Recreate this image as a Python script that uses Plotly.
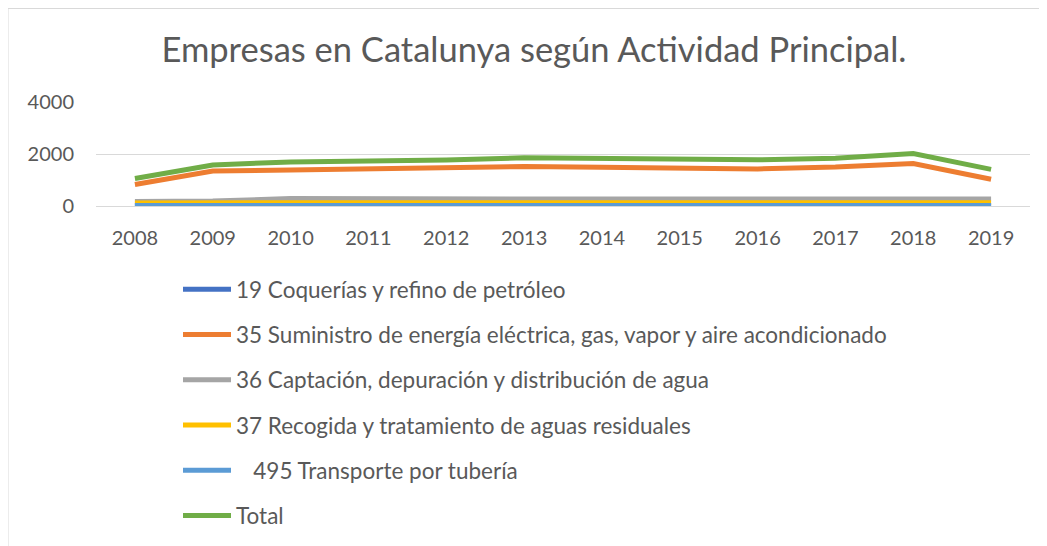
import plotly.graph_objects as go

years = ["2008", "2009", "2010", "2011", "2012", "2013", "2014", "2015", "2016", "2017", "2018", "2019"]

s19 = [5, 5, 5, 5, 5, 5, 5, 5, 5, 5, 5, 5]
s35 = [830, 1350, 1390, 1430, 1470, 1520, 1490, 1450, 1430, 1500, 1640, 1030]
s36 = [170, 190, 290, 270, 270, 270, 270, 270, 270, 280, 280, 270]
s37 = [120, 120, 125, 125, 125, 125, 125, 125, 130, 130, 130, 130]
s495 = [20, 20, 20, 20, 20, 20, 20, 20, 20, 20, 20, 20]
total = [1060, 1580, 1700, 1720, 1770, 1860, 1820, 1790, 1780, 1840, 2020, 1410]

names = [
    "19 Coquerías y refino de petróleo",
    "35 Suministro de energía eléctrica, gas, vapor y aire acondicionado",
    "36 Captación, depuración y distribución de agua",
    "37 Recogida y tratamiento de aguas residuales",
    "\u00a0\u00a0\u00a0495 Transporte por tubería",
    "Total",
]
colors = ["#4472C4", "#ED7D31", "#A5A5A5", "#FFC000", "#5B9BD5", "#70AD47"]
series = [s19, s35, s36, s37, s495, total]

FONT = "Lato"
GREY = "#595959"

fig = go.Figure()
for i, (nm, col, vals) in enumerate(zip(names, colors, series)):
    fig.add_trace(go.Scatter(
        x=years, y=vals, name=nm, mode="lines",
        line=dict(color=col, width=5),
        legendgroup=f"g{i}",
    ))

# page body adds an 8px offset; figure coordinates = reference pixels - 8
OFF = 8
W, H = 1047 - OFF, 546 - OFF
PL, PR, PT, PB = 96 - OFF, 1030 - OFF, 102 - OFF, 206 - OFF
pw, ph = PR - PL, PB - PT

fig.update_layout(
    width=W, height=H,
    margin=dict(l=PL, r=W - PR, t=PT, b=H - PB, autoexpand=False),
    paper_bgcolor="white", plot_bgcolor="white",
    font=dict(family=FONT, size=20, color=GREY),
    title=dict(text="Empresas en Catalunya según Actividad Principal.",
               x=(534 - OFF) / W, xanchor="center", y=1 - (50 - OFF) / H,
               yanchor="middle",
               font=dict(family=FONT, size=34.5, color=GREY)),
    xaxis=dict(type="category", range=[-0.5, 11.5], showgrid=False,
               showline=False, ticks="", ticklabelstandoff=18,
               tickfont=dict(size=20, color=GREY)),
    yaxis=dict(range=[0, 4008], tickvals=[0, 2000, 4000], showgrid=True,
               gridcolor="#D9D9D9", gridwidth=1, zeroline=True,
               zerolinecolor="#D9D9D9", zerolinewidth=1,
               ticks="", ticklabelstandoff=21, showline=False,
               tickfont=dict(size=20, color=GREY)),
    legend=dict(orientation="v", x=(178 - OFF - PL) / pw, xanchor="left",
                y=(PB - (268 - OFF)) / ph, yanchor="top", tracegroupgap=13,
                itemwidth=48,
                font=dict(family=FONT, size=22.5, color=GREY),
                bgcolor="rgba(0,0,0,0)"),
    shapes=[dict(type="rect", xref="paper", yref="paper",
                 x0=(8 - OFF - PL) / pw, x1=(1040 - OFF - PL) / pw,
                 y0=(PB - 560) / ph, y1=(PB - (8 - OFF) - 0.5) / ph,
                 line=dict(color="#D9D9D9", width=1), layer="below")],
)

fig.write_html("out.html")
